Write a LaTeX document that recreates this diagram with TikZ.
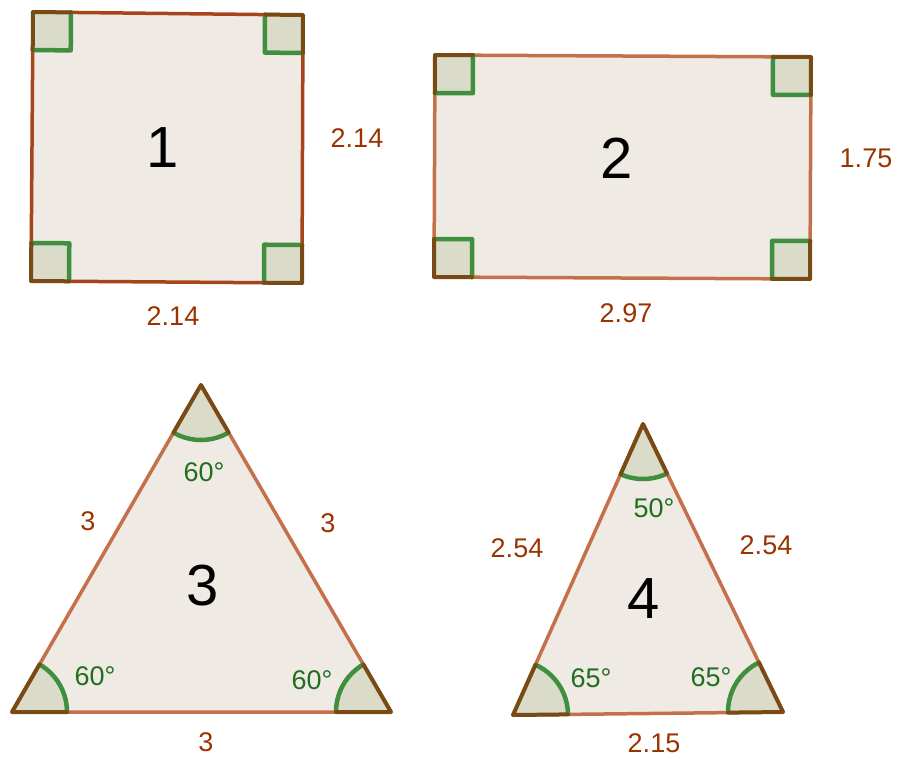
\documentclass[tikz,border=0pt]{standalone}
\usepackage{fontspec}
\setmainfont{Liberation Sans}
\usetikzlibrary{calc}
\definecolor{edgea}{HTML}{A8441C}
\definecolor{edgeb}{HTML}{C4704A}
\definecolor{shapec}{HTML}{EFEAE4}
\definecolor{markc}{HTML}{DADBC8}
\definecolor{greenc}{HTML}{3F8F3F}
\definecolor{darkc}{HTML}{7A4A14}
\definecolor{lenc}{HTML}{993300}
\definecolor{angc}{HTML}{1F6F1F}

% right angle box at corner #1, sides towards #2 and #3
\newcommand{\rtmark}[3]{%
  \coordinate (u) at ($(#1)!38pt!(#2)$); \coordinate (v) at ($(#1)!38pt!(#3)$);
  \coordinate (w) at ($(u)+(v)-(#1)$);
  \fill[markc] (#1) -- (u) -- (w) -- (v) -- cycle;
  \draw[mg] (u) -- (w) -- (v);
  \draw[md] (u) -- (#1) -- (v);}
% angle sector at vertex #1 of triangle #1 #2 #3
\newcommand{\angmark}[3]{%
  \begin{scope} \clip (#1) -- (#2) -- (#3) -- cycle;
    \fill[markc] (#1) circle (55pt); \draw[mg] (#1) circle (55pt); \end{scope}
  \draw[md] ($(#1)!55pt!(#2)$) -- (#1) -- ($(#1)!55pt!(#3)$);}

\begin{document}
\begin{tikzpicture}[x=1pt, y=-1pt, line join=round, line cap=round,
    poly/.style={fill=shapec, line width=3.5pt},
    mg/.style={draw=greenc, line width=4.5pt},
    md/.style={draw=darkc, line width=4pt},
    big/.style={font=\fontsize{58}{60}\selectfont, text=black},
    len/.style={font=\fontsize{27}{30}\selectfont, text=lenc},
    ang/.style={font=\fontsize{27}{30}\selectfont, text=angc}]
  \useasboundingbox (0,0) rectangle (899,758);
  % shape 1
  \coordinate (a1) at (33,12); \coordinate (b1) at (303,15); \coordinate (c1) at (302,283); \coordinate (d1) at (31,281);
  \draw[poly, draw=edgea] (a1) -- (b1) -- (c1) -- (d1) -- cycle;
  \rtmark{a1}{b1}{d1} \rtmark{b1}{c1}{a1} \rtmark{c1}{d1}{b1} \rtmark{d1}{a1}{c1}
  \node[big] (n1) at (163,148) {1};
  \node[len] (s1r) at (357,138) {2.14}; \node[len] (s1b) at (173,316) {2.14};
  % shape 2
  \coordinate (a2) at (435,55); \coordinate (b2) at (811,57); \coordinate (c2) at (810,279); \coordinate (d2) at (434,277);
  \draw[poly, draw=edgeb] (a2) -- (b2) -- (c2) -- (d2) -- cycle;
  \rtmark{a2}{b2}{d2} \rtmark{b2}{c2}{a2} \rtmark{c2}{d2}{b2} \rtmark{d2}{a2}{c2}
  \node[big] (n2) at (617,158) {2};
  \node[len] (s2r) at (866,158) {1.75}; \node[len] (s2b) at (626,313) {2.97};
  % shape 3
  \coordinate (a3) at (201,385); \coordinate (b3) at (391,712); \coordinate (c3) at (12,712);
  \draw[poly, draw=edgeb] (a3) -- (b3) -- (c3) -- cycle;
  \angmark{a3}{b3}{c3} \angmark{b3}{c3}{a3} \angmark{c3}{a3}{b3}
  \node[big] (n3) at (203,586) {3};
  \node[len] (s3l) at (88,521) {3}; \node[len] (s3r) at (328,523) {3}; \node[len] (s3b) at (206,742) {3};
  \node[ang] (t3a) at (204,472) {60°}; \node[ang] (t3c) at (95,676) {60°}; \node[ang] (t3b) at (312,680) {60°};
  % shape 4
  \coordinate (a4) at (643,424); \coordinate (b4) at (783,712); \coordinate (c4) at (513,715);
  \draw[poly, draw=edgeb] (a4) -- (b4) -- (c4) -- cycle;
  \angmark{a4}{b4}{c4} \angmark{b4}{c4}{a4} \angmark{c4}{a4}{b4}
  \node[big] (n4) at (644,599) {4};
  \node[len] (s4l) at (517,548) {2.54}; \node[len] (s4r) at (766,545) {2.54}; \node[len] (s4b) at (654,743) {2.15};
  \node[ang] (t4a) at (654,508) {50°}; \node[ang] (t4c) at (591,678) {65°}; \node[ang] (t4b) at (711,677) {65°};
\end{tikzpicture}
\end{document}
